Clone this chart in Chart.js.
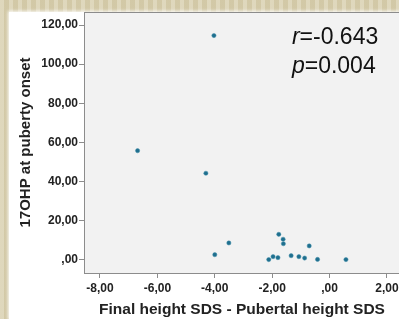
<!DOCTYPE html>
<html>
<head>
<meta charset="utf-8">
<script src="https://cdn.jsdelivr.net/npm/chart.js@4/dist/chart.umd.min.js"></script>
<style>
  html, body { margin:0; padding:0; width:399px; height:319px; overflow:hidden; }
  body {
    background-color:#d8cfae;
    background-image: repeating-linear-gradient(90deg, rgba(255,255,255,0.18) 0 4px, rgba(120,100,50,0.06) 4px 9px);
    position:relative;
  }
  #panel { position:absolute; left:9px; top:12px; right:0; bottom:0; background:#ffffff; box-shadow:0 0 3px 1px rgba(255,255,255,0.9); }
  #wrap { position:absolute; left:0; top:0; width:410px; height:319px; }
</style>
</head>
<body>
<div id="panel"></div>
<div id="wrap"><canvas id="c" width="410" height="319"></canvas></div>
<script>
// ---- data ----
const xValues = [-6.69, -4.03, -4.31, -3.51, -4.00, -1.77, -1.62, -1.61, -0.71, -2.12, -1.97, -1.80, -1.34, -1.07, -0.87, -0.42, 0.57];
const yValues = [55.8, 114.6, 44.3, 8.7, 2.7, 13.1, 10.6, 8.3, 7.2, 0.2, 1.7, 1.2, 2.2, 1.7, 1.0, 0.3, 0.2];
const xTicks = [-8, -6, -4, -2, 0, 2];
const xTickLabels = ['-8,00', '-6,00', '-4,00', '-2,00', ',00', '2,00'];
const yTicks = [0, 20, 40, 60, 80, 100, 120];
const yTickLabels = [',00', '20,00', '40,00', '60,00', '80,00', '100,00', '120,00'];
const xTitle = 'Final height SDS - Pubertal height SDS';
const yTitle = '17OHP at puberty onset';
const statR = '-0.643';
const statP = '0.004';

const points = xValues.map((x, i) => ({ x: x, y: yValues[i] }));
const FONT = "'Liberation Sans', Arial, sans-serif";
const AXIS = '#8c8c8c';

const bgPlugin = {
  id: 'plotbg',
  beforeDraw(chart) {
    const { ctx, chartArea: a } = chart;
    ctx.save();
    ctx.fillStyle = '#f2f2f2';
    ctx.fillRect(a.left, a.top, a.right - a.left, a.bottom - a.top);
    ctx.strokeStyle = AXIS;
    ctx.lineWidth = 1;
    ctx.beginPath();
    ctx.moveTo(a.left, a.top + 0.5);
    ctx.lineTo(a.right, a.top + 0.5);
    ctx.lineTo(a.right - 0.5, a.bottom);
    ctx.stroke();
    ctx.restore();
  }
};

const statPlugin = {
  id: 'stats',
  afterDraw(chart) {
    const { ctx, chartArea: a } = chart;
    const w = a.right - a.left, h = a.bottom - a.top;
    const x0 = a.left + 0.658 * w;
    const lines = [['r', '=' + statR, 0.1226], ['p', '=' + statP, 0.232]];
    ctx.save();
    ctx.fillStyle = '#111';
    ctx.textBaseline = 'alphabetic';
    ctx.textAlign = 'left';
    lines.forEach(([it, rest, fy]) => {
      const y = a.top + fy * h;
      ctx.font = 'italic 23px ' + FONT;
      ctx.fillText(it, x0, y);
      const iw = ctx.measureText(it).width;
      ctx.font = '23px ' + FONT;
      ctx.fillText(rest, x0 + iw, y);
    });
    ctx.restore();
  }
};

new Chart(document.getElementById('c'), {
  type: 'scatter',
  data: {
    datasets: [{
      data: points,
      backgroundColor: '#1f6f8e',
      borderColor: '#3d8aa6',
      borderWidth: 0.5,
      pointRadius: 2.1,
      pointHoverRadius: 2.1
    }]
  },
  options: {
    responsive: false,
    animation: false,
    events: [],
    layout: { padding: { left: 0, top: 12, right: 10, bottom: 0 } },
    plugins: { legend: { display: false }, tooltip: { enabled: false } },
    scales: {
      x: {
        type: 'linear',
        min: -8.557,
        max: 2.453,
        afterBuildTicks: s => { s.ticks = xTicks.map(v => ({ value: v })); },
        afterFit: s => { s.height = 46; },
        grid: { drawOnChartArea: false, drawTicks: true, tickLength: 5, color: AXIS },
        border: { display: true, color: AXIS, width: 1 },
        ticks: {
          padding: 3,
          maxRotation: 0,
          autoSkip: false,
          color: '#222',
          font: { family: FONT, size: 12, weight: 'bold' },
          callback: (v, i) => xTickLabels[i]
        },
        title: {
          display: true,
          text: xTitle,
          color: '#222',
          padding: { top: 0, bottom: 0 },
          font: { family: FONT, size: 15.5, weight: 'bold', lineHeight: 1.2 }
        }
      },
      y: {
        type: 'linear',
        min: -6.64,
        max: 126.64,
        afterBuildTicks: s => { s.ticks = yTicks.map(v => ({ value: v })); },
        afterFit: s => { s.width = 84; },
        grid: { drawOnChartArea: false, drawTicks: true, tickLength: 5, color: AXIS },
        border: { display: true, color: AXIS, width: 1 },
        ticks: {
          padding: 1,
          autoSkip: false,
          color: '#222',
          font: { family: FONT, size: 12, weight: 'bold' },
          callback: (v, i) => yTickLabels[i]
        },
        title: {
          display: true,
          text: yTitle,
          color: '#222',
          padding: { top: 17, bottom: 0 },
          font: { family: FONT, size: 15, weight: 'bold', lineHeight: 1.2 }
        }
      }
    }
  },
  plugins: [bgPlugin, statPlugin]
});
</script>
</body>
</html>
